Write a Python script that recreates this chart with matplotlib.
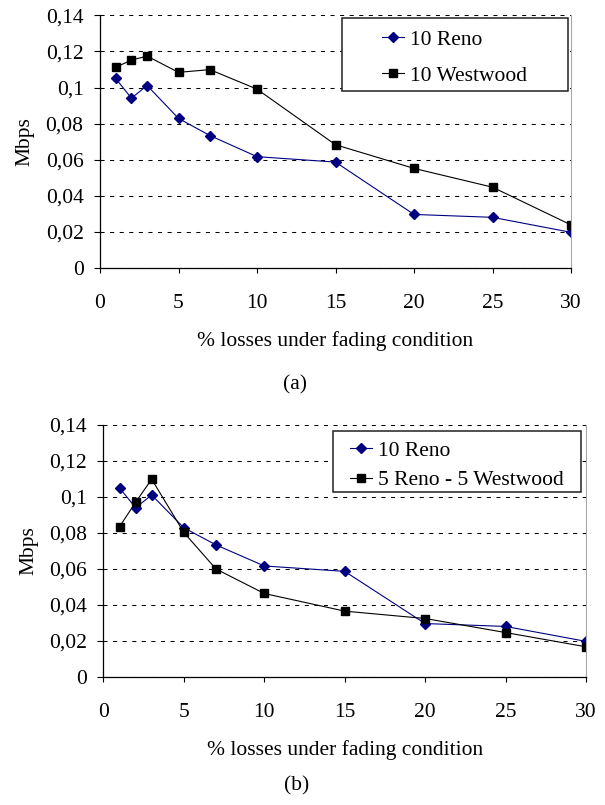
import numpy as np
import matplotlib
matplotlib.use("Agg")
import matplotlib.pyplot as plt
from matplotlib.ticker import FuncFormatter
from matplotlib.patches import Rectangle

plt.rcParams['font.family'] = ['Liberation Serif', 'DejaVu Serif']
plt.rcParams['font.size'] = 15.5

# % losses
losses = [1, 2, 3, 5, 7, 10, 15, 20, 25, 30]

# throughput (Mbps)
reno_10 = [0.105, 0.0941, 0.1011, 0.0829, 0.0734, 0.0617, 0.0587, 0.0297, 0.0281, 0.0198]
westwood_10 = [0.1112, 0.1152, 0.1174, 0.1084, 0.1099, 0.0991, 0.0683, 0.0552, 0.0448, 0.0239]
mixed_5_5 = [0.0835, 0.0971, 0.1099, 0.0803, 0.0600, 0.0464, 0.0366, 0.0325, 0.0247, 0.0168]

xticks = [0, 5, 10, 15, 20, 25, 30]
yticks = [0, 0.02, 0.04, 0.06, 0.08, 0.1, 0.12, 0.14]
xlabel = "% losses under fading condition"
ylabel = "Mbps"

RENO_COLOR = '#000080'


def comma_fmt(v, pos):
    return ("%g" % round(v, 4)).replace(".", ",")


def setup_axes(ax):
    ax.set_xlim(0, 30)
    ax.set_ylim(0, 0.14)
    ax.set_xticks(xticks)
    ax.set_yticks(yticks)
    ax.yaxis.set_major_formatter(FuncFormatter(comma_fmt))
    ax.tick_params(axis='x', direction='out', length=3.6, width=0.8, pad=15)
    ax.tick_params(axis='y', direction='out', length=4.3, width=0.8, pad=7.5)
    ax.grid(axis='y', color='black', linestyle=(0, (3.9, 5.3)), linewidth=0.75)
    ax.set_axisbelow(True)
    ax.spines['top'].set_visible(False)
    ax.spines['right'].set_color('#a8a8a8')
    ax.spines['right'].set_linewidth(0.8)
    for s in ('left', 'bottom'):
        ax.spines[s].set_linewidth(0.9)
    ax.set_xlabel(xlabel, labelpad=13)
    ax.set_ylabel(ylabel, labelpad=8)


def legend_box(ax, box, labelspacing, shift):
    # box = (left, bottom, right, top) in figure fraction
    x0, y0, x1, y1 = box
    ax.add_patch(Rectangle((x0, y0), x1 - x0, y1 - y0, transform=fig.transFigure,
                           facecolor='white', edgecolor='#202020', linewidth=1.1,
                           clip_on=False, zorder=4))
    leg = ax.legend(loc='center', bbox_to_anchor=((x0 + x1) / 2, (y0 + y1) / 2 - shift),
                    bbox_transform=fig.transFigure, frameon=False,
                    handlelength=1.0, handletextpad=0.3, borderpad=0,
                    labelspacing=labelspacing)
    leg.set_zorder(5)
    return leg


fig = plt.figure(figsize=(6.05, 8.05), dpi=100)

# (a)
ax1 = fig.add_axes([0.1653, 0.667, 0.7785, 0.314])
setup_axes(ax1)
ax1.plot(losses, reno_10, color=RENO_COLOR, marker='D', markersize=5, linewidth=0.8,
         label='10 Reno')
ax1.plot(losses, westwood_10, color='black', marker='s', markersize=6.2, linewidth=0.8,
         label='10 Westwood')
legend_box(ax1, (0.5653, 0.8870, 0.9388, 0.9776), 0.72, 0.004)
fig.text(0.487, 0.522, "(a)", ha='center', va='center')

# (b)
ax2 = fig.add_axes([0.171, 0.159, 0.7975, 0.313])
setup_axes(ax2)
ax2.plot(losses, reno_10, color=RENO_COLOR, marker='D', markersize=5, linewidth=0.8,
         label='10 Reno')
ax2.plot(losses, mixed_5_5, color='black', marker='s', markersize=6.2, linewidth=0.8,
         label='5 Reno - 5 Westwood')
legend_box(ax2, (0.5504, 0.3888, 0.9603, 0.4646), 0.43, 0.005)
fig.text(0.491, 0.0236, "(b)", ha='center', va='center')

fig.savefig("out.png", dpi=100)
